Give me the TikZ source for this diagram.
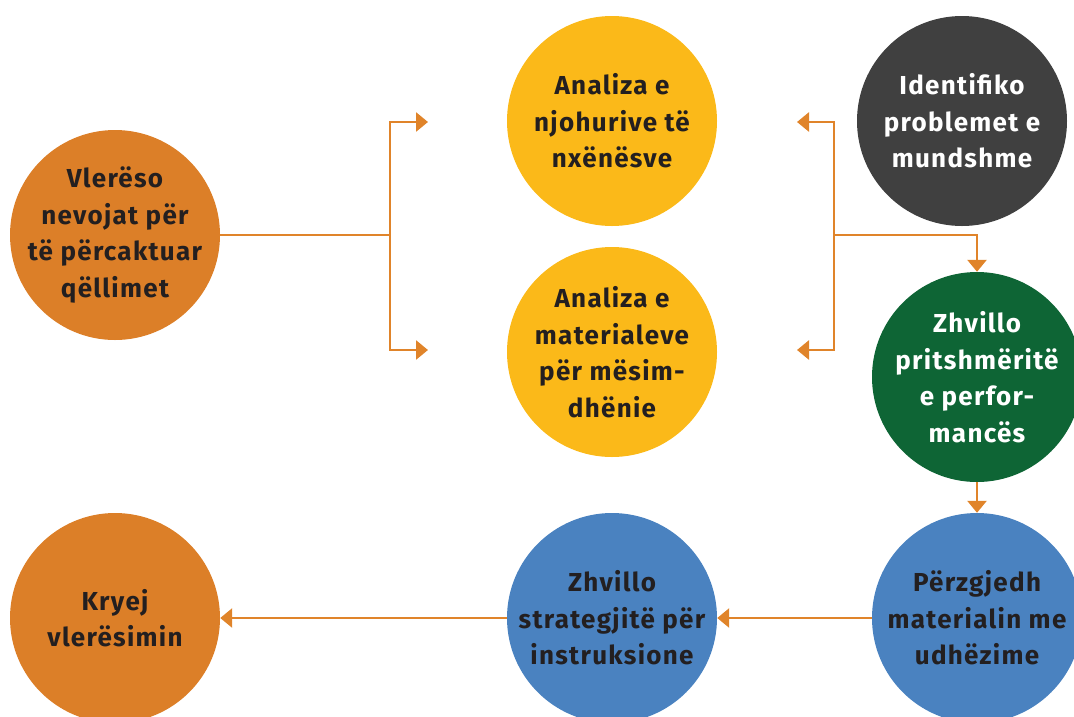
\documentclass[tikz,border=0pt]{standalone}
\usepackage{fontspec}
\setmainfont{Fira Sans}[LetterSpace=5]
\usetikzlibrary{arrows.meta}
\definecolor{corange}{HTML}{DC7F28}
\definecolor{cyellow}{HTML}{FBB919}
\definecolor{cgray}{HTML}{404040}
\definecolor{cgreen}{HTML}{0E6535}
\definecolor{cblue}{HTML}{4A82C0}
\definecolor{cline}{HTML}{E0842A}
\definecolor{ctext}{HTML}{231F20}
\tikzset{
  bubble/.style={circle, minimum size=210pt, inner sep=-40pt, align=center,
    font=\fontsize{26}{36.5}\selectfont\bfseries, text=ctext},
  conn/.style={draw=cline, line width=2.7pt},
  arr/.style={conn, -{Triangle[width=19pt,length=12pt]}},
}
\begin{document}
\begin{tikzpicture}[x=1pt,y=-1pt]
\useasboundingbox (0,0) rectangle (1074,716);
\clip (0,0) rectangle (1074,716);
\node[bubble, fill=corange] (a) at (115,235) {Vlerëso\\nevojat për\\të përcaktuar\\qëllimet};
\node[bubble, fill=cyellow] (b) at (612,121) {Analiza e\\njohurive të\\nxënësve};
\node[bubble, fill=cyellow] (c) at (612,352) {Analiza e\\materialeve\\për mësim-\\dhënie};
\node[bubble, fill=cgray, text=white] (d) at (962,121) {Identifiko\\problemet e\\mundshme};
\node[bubble, fill=cgreen, text=white] (e) at (977,377) {Zhvillo\\pritshmëritë\\e perfor-\\mancës};
\node[bubble, fill=cblue] (f) at (977,618) {Përzgjedh\\materialin me\\udhëzime};
\node[bubble, fill=cblue] (g) at (612,618) {Zhvillo\\strategjitë për\\instruksione};
\node[bubble, fill=corange] (h) at (115,618) {Kryej\\vlerësimin};
% left branch
\coordinate (j1) at (390,235);
\coordinate (t1) at (428,122);
\coordinate (t2) at (428,350);
\draw[conn] (a.east) -- (j1);
\draw[arr] (j1) |- (t1);
\draw[arr] (j1) |- (t2);
% right branch
\coordinate (j2) at (834,235);
\coordinate (t3) at (797,122);
\coordinate (t4) at (797,350);
\draw[arr] (j2) |- (t3);
\draw[arr] (j2) |- (t4);
\draw[arr] (j2) -| (e.north);
% vertical and bottom row
\draw[arr] (e.south) -- (f.north);
\draw[arr] (f.west) -- (g.east);
\draw[arr] (g.west) -- (h.east);
\end{tikzpicture}
\end{document}
